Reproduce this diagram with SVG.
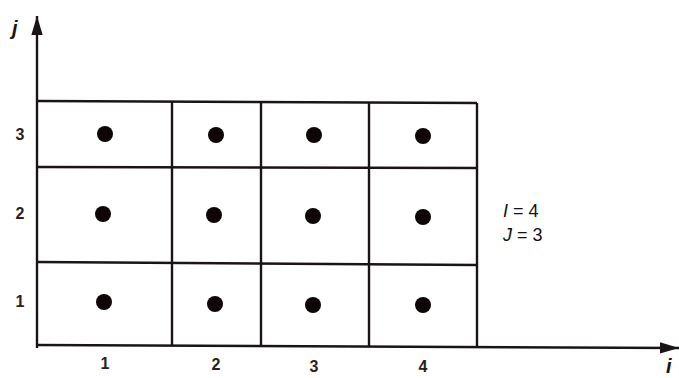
<svg xmlns="http://www.w3.org/2000/svg" width="679" height="378" viewBox="0 0 679 378">
<style>
.ln{stroke:#1a1414;stroke-width:2.4;fill:none}
.dot{fill:#0d0506}
.lb{font-family:"Liberation Sans",Arial,sans-serif;font-weight:bold;font-size:16px;fill:#2a2222;text-anchor:middle}
.eq{font-family:"Liberation Sans",Arial,sans-serif;font-size:18px;fill:#111}
.ax{font-family:"Liberation Sans",Arial,sans-serif;font-style:italic;font-weight:bold;font-size:20px;fill:#1a1414}
</style>
<defs>
<marker id="ah" viewBox="0 0 20 12" refX="20" refY="6" markerWidth="8" markerHeight="4.8" orient="auto" markerUnits="strokeWidth">
<path d="M0,0 L20,6 L0,12 z" fill="#1a1414"/>
</marker>
</defs>
<g id="connectors">
<line class="ln" x1="37" y1="348" x2="37" y2="16" marker-end="url(#ah)"/>
<line class="ln" x1="37" y1="345" x2="679" y2="348" marker-end="url(#ah)"/>
</g>
<g id="grid">
<line class="ln" x1="37" y1="101" x2="477" y2="103"/>
<line class="ln" x1="37" y1="167" x2="477" y2="168"/>
<line class="ln" x1="37" y1="262" x2="477" y2="265"/>
<line class="ln" x1="172" y1="101" x2="172" y2="345"/>
<line class="ln" x1="261" y1="102" x2="261" y2="345"/>
<line class="ln" x1="369" y1="102" x2="369" y2="346"/>
<line class="ln" x1="477" y1="103" x2="477" y2="346"/>
</g>
<g id="cells">
<circle class="dot" cx="105" cy="134" r="8"/>
<circle class="dot" cx="216" cy="135" r="8"/>
<circle class="dot" cx="314" cy="135" r="8"/>
<circle class="dot" cx="423" cy="136" r="8"/>
<circle class="dot" cx="103" cy="214" r="8"/>
<circle class="dot" cx="214" cy="215" r="8"/>
<circle class="dot" cx="313" cy="216" r="8"/>
<circle class="dot" cx="423" cy="217" r="8"/>
<circle class="dot" cx="104" cy="302" r="8"/>
<circle class="dot" cx="215" cy="304" r="8"/>
<circle class="dot" cx="313" cy="305" r="8"/>
<circle class="dot" cx="423" cy="305" r="8"/>
</g>
<g id="labels">
<text class="lb" x="20" y="140">3</text>
<text class="lb" x="20" y="219">2</text>
<text class="lb" x="20" y="307">1</text>
<text class="lb" x="105" y="369">1</text>
<text class="lb" x="216" y="370">2</text>
<text class="lb" x="314" y="372">3</text>
<text class="lb" x="423" y="372">4</text>
<text class="eq" x="503" y="217"><tspan font-style="italic">I</tspan> = 4</text>
<text class="eq" x="503" y="241"><tspan font-style="italic">J</tspan> = 3</text>
<text class="ax" x="12" y="35">j</text>
<text class="ax" x="666" y="373">i</text>
</g>
</svg>
